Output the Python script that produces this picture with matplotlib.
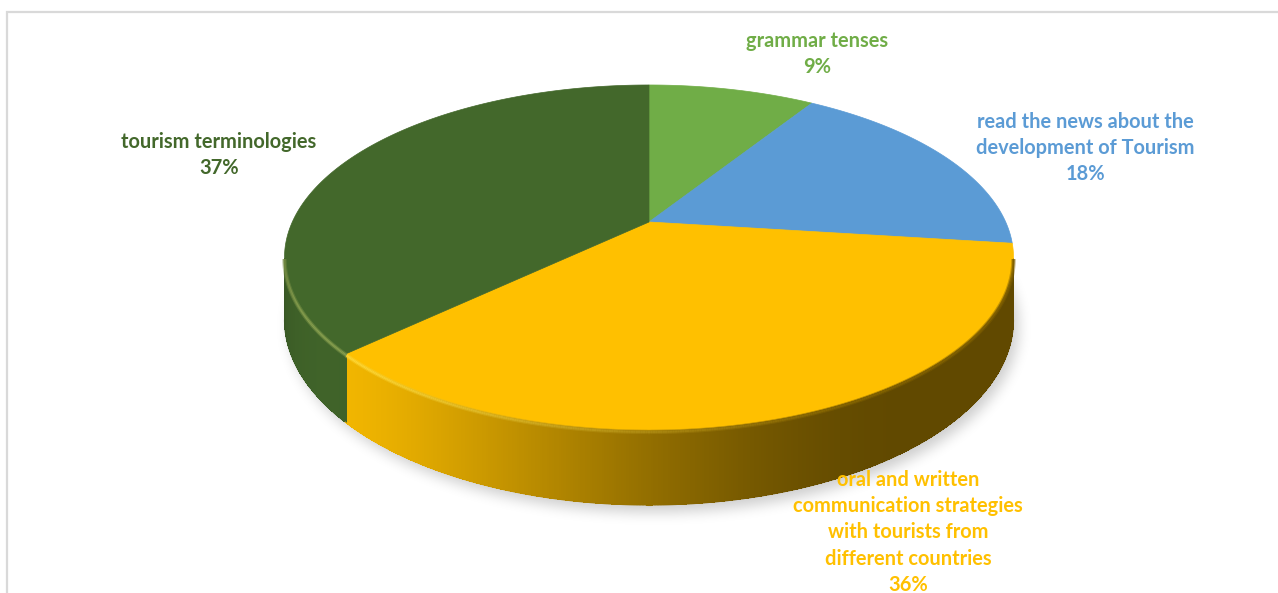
import numpy as np
import matplotlib
matplotlib.use("Agg")
import matplotlib.pyplot as plt
from matplotlib.collections import PolyCollection, LineCollection
from matplotlib.patches import Polygon
from matplotlib.path import Path
from matplotlib.colors import to_rgb

# ---- data -------------------------------------------------------------
categories = [
    "grammar tenses",
    "read the news about the development of Tourism",
    "oral and written communication strategies with tourists from different countries",
    "tourism terminologies",
]
shares = [9, 18, 36, 37]
slice_colors = ["#70AD47", "#5B9BD5", "#FFC000", "#43682B"]
label_lines = [
    ["grammar tenses"],
    ["read the news about the", "development of Tourism"],
    ["oral and written", "communication strategies", "with tourists from", "different countries"],
    ["tourism terminologies"],
]
label_anchor = [(817, 41), (1085, 122), (908, 480), (219, 142)]

# ---- canvas (pixel coordinates) ---------------------------------------
W, H = 1278, 593
fig = plt.figure(figsize=(W / 100, H / 100), dpi=100)
ax = fig.add_axes([0, 0, 1, 1])
ax.set_xlim(0, W)
ax.set_ylim(H, 0)
ax.axis("off")

# perspective disc: apex, radii, perspective factor, thickness
cx, cy = 649.0, 222.0
A, B, K, D = 356.7, 165.2, 0.2057, 59.6


def proj(phi_deg, depth=0.0):
    p = np.radians(phi_deg)
    s = 1.0 / (1.0 + K * np.cos(p))
    x = cx + A * np.sin(p) * s
    y = cy - B * np.cos(p) * s + depth * s
    return x, y


def light(phi):
    return np.clip(np.cos(np.radians(phi - 232.0)), 0, 1) ** 2.2


total = float(sum(shares))
bounds = np.concatenate([[0.0], np.cumsum(shares) / total * 360.0])


def slice_of(phi):
    return int(np.clip(np.searchsorted(bounds, phi % 360.0, side="right") - 1, 0, len(shares) - 1))


# ---- soft drop shadow -------------------------------------------------
def box_blur(a, r):
    n0, n1 = a.shape
    for axis, n in ((0, n0), (1, n1)):
        pad = [(r + 1, r) if i == axis else (0, 0) for i in range(2)]
        c = np.cumsum(np.pad(a, pad, mode="edge"), axis=axis)
        a = (np.take(c, np.arange(2 * r + 1, n + 2 * r + 1), axis=axis)
             - np.take(c, np.arange(0, n), axis=axis)) / (2 * r + 1)
    return a


ring = np.linspace(0, 360, 721)
bx, by = proj(ring, D)
shadow_path = Path(np.column_stack([bx + 5, by + 7]))
gy, gx = np.mgrid[0:H, 0:W] + 0.5
mask = shadow_path.contains_points(np.column_stack([gx.ravel(), gy.ravel()])).reshape(H, W).astype(float)
for _ in range(3):
    mask = box_blur(mask, 6)
shadow = np.zeros((H, W, 4))
shadow[..., 3] = mask * 0.2
ax.imshow(shadow, extent=(0, W, H, 0), zorder=0, interpolation="bilinear")

# ---- side wall --------------------------------------------------------
phi_start = np.degrees(np.arccos(-K))
phi_end = 360.0 - phi_start
edges = np.linspace(phi_start, phi_end, 500)
overlap = 0.6 * (edges[1] - edges[0])
quads, qcols = [], []
for a0, a1 in zip(edges[:-1], edges[1:]):
    a1e = min(a1 + overlap, phi_end)
    x0, y0 = proj(a0)
    x1, y1 = proj(a1e)
    x0b, y0b = proj(a0, D)
    x1b, y1b = proj(a1e, D)
    quads.append([(x0, y0), (x1, y1), (x1b, y1b), (x0b, y0b)])
    mid = 0.5 * (a0 + a1)
    base = np.array(to_rgb(slice_colors[slice_of(mid)]))
    shade = 0.38 + 0.57 * light(mid)
    qcols.append(np.clip(base * shade, 0, 1))
ax.add_collection(PolyCollection(quads, facecolors=qcols, edgecolors="none",
                                 antialiased=False, zorder=2))
# smooth outline of the wall's lower edge and ends
edge_lo = np.linspace(phi_start, phi_end, 400)
lx, ly = proj(edge_lo, D)
wall_cols = [np.clip(np.array(to_rgb(slice_colors[slice_of(p)])) * (0.38 + 0.57 * light(p)), 0, 1)
             for p in edge_lo]
ax.add_collection(LineCollection(
    [[(lx[i], ly[i]), (lx[i + 1], ly[i + 1])] for i in range(len(lx) - 1)],
    colors=wall_cols[:-1], linewidths=0.8, zorder=2))

# ---- top faces --------------------------------------------------------
for i, col in enumerate(slice_colors):
    arc = np.linspace(bounds[i], bounds[i + 1], 200)
    ax_, ay_ = proj(arc)
    pts = np.vstack([[cx, cy], np.column_stack([ax_, ay_])])
    ax.add_patch(Polygon(pts, closed=True, facecolor=col, edgecolor=col,
                         linewidth=0.5, zorder=3))

# bevel along the front rim
segs, scols = [], []
for a0, a1 in zip(edges[:-1], edges[1:]):
    x0, y0 = proj(a0, 1.5)
    x1, y1 = proj(a1, 1.5)
    segs.append([(x0, y0), (x1, y1)])
    mid = 0.5 * (a0 + a1)
    base = np.array(to_rgb(slice_colors[slice_of(mid)]))
    hi = base + (np.array([1, 1, 0.55]) - base) * 0.35
    lo = base * 0.5
    l = light(mid)
    scols.append(np.clip(lo * (1 - l) + hi * l, 0, 1))
ax.add_collection(LineCollection(segs, colors=scols, linewidths=3.2, alpha=0.45,
                                 capstyle="butt", zorder=4))
ax.add_collection(LineCollection(segs, colors=scols, linewidths=1.6,
                                 capstyle="butt", zorder=4))

# ---- chart frame ------------------------------------------------------
ax.plot([7, 7, W + 5], [H + 5, 12, 12], color="#D9D9D9", linewidth=1.6,
        solid_joinstyle="miter", zorder=1)

# ---- labels -----------------------------------------------------------
font = dict(family=["Lato", "DejaVu Sans"], fontweight="bold", fontsize=14.4)
step = 26.2
for lines, share, (lx_, ly_), col in zip(label_lines, shares, label_anchor, slice_colors):
    rows = lines + [f"{round(share / total * 100)}%"]
    for j, row in enumerate(rows):
        ax.text(lx_, ly_ + j * step, row, color=col, ha="center", va="center",
                zorder=6, **font)

fig.savefig("out.png", dpi=100)
